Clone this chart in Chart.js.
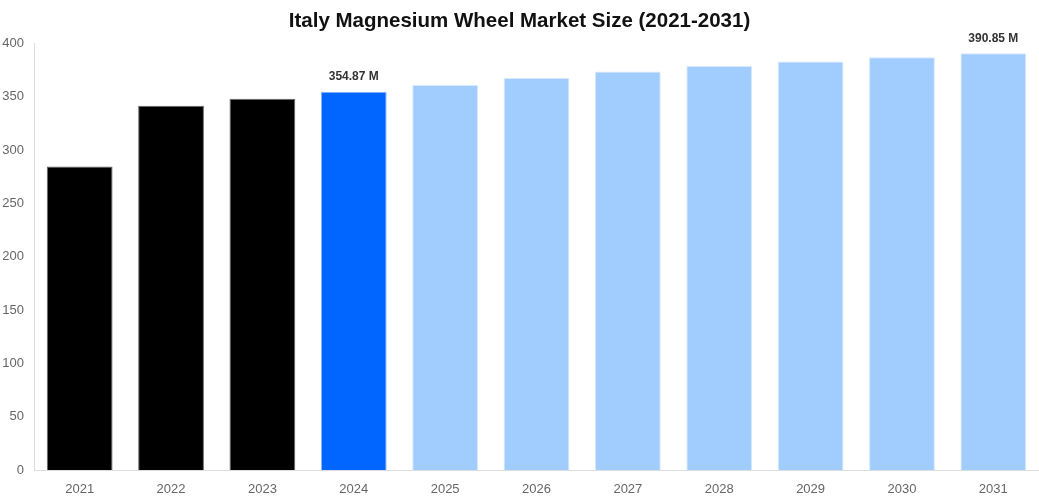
<!DOCTYPE html>
<html>
<head>
<meta charset="utf-8">
<script src="https://cdn.jsdelivr.net/npm/chart.js@4"></script>
<style>
  html, body { margin: 0; padding: 0; background: #fff; }
  #wrap { width: 1039px; height: 500px; position: relative; }
</style>
</head>
<body>
<div id="wrap"><canvas id="marketChart"></canvas></div>
<script>
const years = ['2021','2022','2023','2024','2025','2026','2027','2028','2029','2030','2031'];
const marketSize = [284.8, 341.8, 348.3, 354.87, 361.1, 367.7, 373.8, 378.9, 383.1, 387.2, 390.85];
const labelledYears = ['2024', '2031'];
const fillColors = ['#000000','#000000','#000000','#0066ff','#a0cdfe','#a0cdfe','#a0cdfe','#a0cdfe','#a0cdfe','#a0cdfe','#a0cdfe'];
const edgeColors = ['#666666','#666666','#666666','#8fb8ff','#d6e9ff','#d6e9ff','#d6e9ff','#d6e9ff','#d6e9ff','#d6e9ff','#d6e9ff'];

Chart.defaults.font.family = 'Arial, "Liberation Sans", sans-serif';

// value labels above selected bars
const valueLabels = {
    id: 'valueLabels',
    afterDatasetsDraw(chart) {
        const ctx = chart.ctx;
        const meta = chart.getDatasetMeta(0);
        ctx.save();
        ctx.font = 'bold 12px Arial, "Liberation Sans", sans-serif';
        ctx.fillStyle = '#333';
        ctx.textAlign = 'center';
        ctx.textBaseline = 'bottom';
        meta.data.forEach((bar, i) => {
            if (labelledYears.includes(years[i])) {
                ctx.fillText(marketSize[i].toFixed(2) + ' M', bar.x, bar.y - 9);
            }
        });
        ctx.restore();
    }
};

new Chart(document.getElementById('marketChart'), {
    type: 'bar',
    data: {
        labels: years,
        datasets: [{
            label: 'Market Size',
            data: marketSize,
            backgroundColor: fillColors,
            borderColor: edgeColors,
            borderWidth: 1
        }]
    },
    options: {
        responsive: true,
        maintainAspectRatio: false,
        animation: false,
        layout: { padding: { left: 0, right: 0, top: 0, bottom: 0 } },
        plugins: {
            legend: { display: false },
            tooltip: { enabled: false },
            title: {
                display: true,
                text: 'Italy Magnesium Wheel Market Size (2021-2031)',
                color: '#111',
                font: { size: 20.5, weight: 'bold' },
                padding: { top: 9, bottom: 10 }
            }
        },
        scales: {
            x: {
                grid: { display: false, drawTicks: false },
                border: { display: true, color: '#ddd' },
                ticks: { color: '#666', font: { size: 13 }, padding: 12 },
                afterFit(scale) { scale.height = 30; }
            },
            y: {
                min: 0,
                max: 400,
                grid: { display: false, drawTicks: false },
                border: { display: true, color: '#ddd' },
                ticks: { stepSize: 50, color: '#666', font: { size: 13 }, padding: 10 },
                afterFit(scale) { scale.width = 34; }
            }
        }
    },
    plugins: [valueLabels]
});
</script>
</body>
</html>
